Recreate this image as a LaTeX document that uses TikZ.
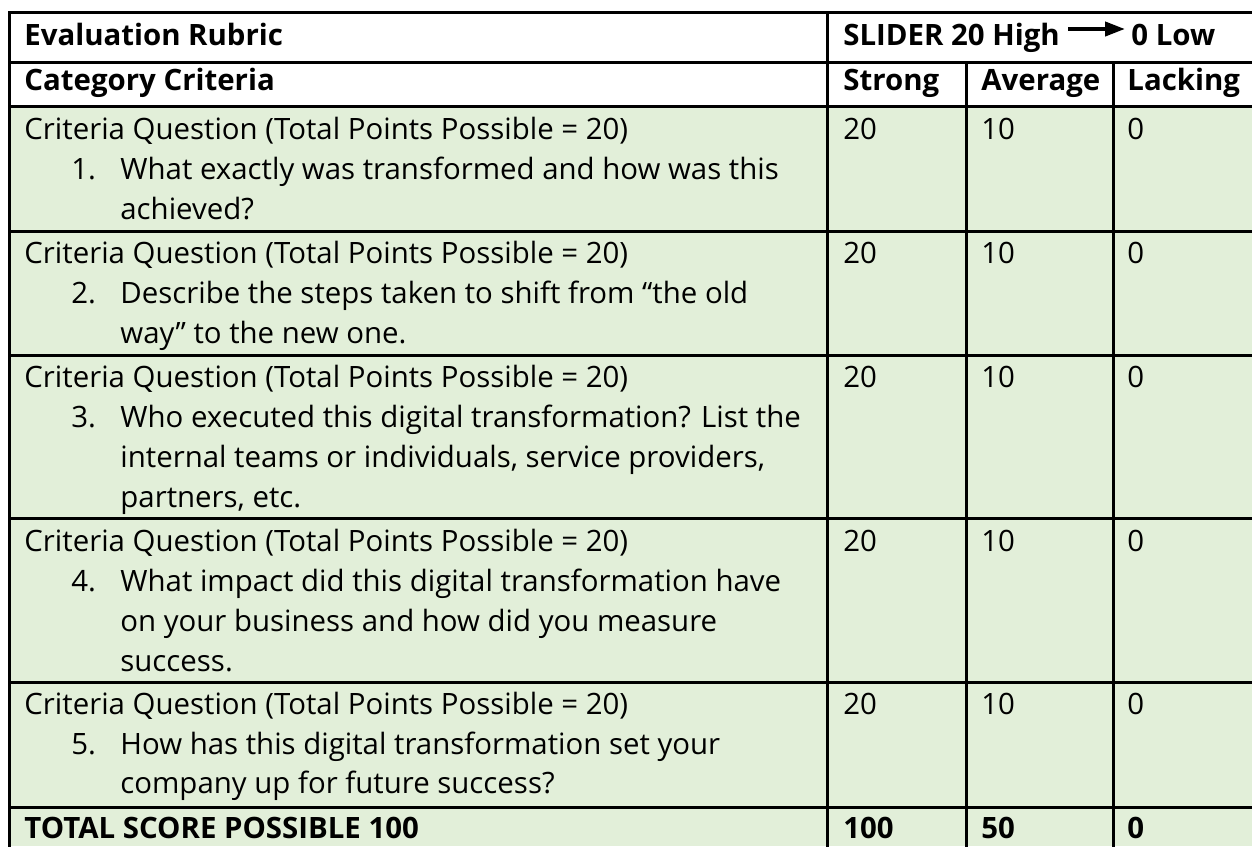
\documentclass[tikz,border=0pt]{standalone}
\usepackage{fontspec}
\setmainfont{Open Sans}
\usetikzlibrary{arrows.meta}
\definecolor{rowgreen}{HTML}{E2EFD9}
\newcommand{\hdr}[1]{{\bfseries #1}}

\begin{document}
\begin{tikzpicture}[
 x=0.5pt,
 y=-0.5pt,
 font=\fontsize{14.7}{20}\selectfont,
 txt/.style={
  anchor=base west,
  inner sep=0pt,
 },
 rule/.style={
  line width=1.5pt,
  line cap=rect,
 }
]

\useasboundingbox (0,0) rectangle (1252,846);
\fill[white] (0,0) rectangle (1252,846);
\fill[rowgreen] (9,106) rectangle (1252,846);

% grid
\draw[rule] (9,12) -- (1252,12);
\draw[rule] (9,62) -- (1252,62);
\draw[rule] (9,106) -- (1252,106);
\draw[rule] (9,231) -- (1252,231);
\draw[rule] (9,355) -- (1252,355);
\draw[rule] (9,518) -- (1252,518);
\draw[rule] (9,682) -- (1252,682);
\draw[rule] (9,807) -- (1252,807);
\draw[rule] (9,12) -- (9,846);
\draw[rule] (827,12) -- (827,846);
\draw[rule] (966,62) -- (966,846);
\draw[rule] (1113,62) -- (1113,846);

% header
\node at (24,45) [txt] (rubric) {\hdr{Evaluation Rubric}};
\node at (843,45) [txt] (high) {\hdr{SLIDER 20 High}};
\node at (1131,45) [txt] (low) {\hdr{0 Low}};
\draw[line width=2pt,-{Triangle[length=10pt,width=7pt]}] ([xshift=4pt,yshift=8pt]high.base east) -- ([xshift=-3pt,yshift=8pt]low.base west);

\node at (24,90) [txt] (category) {\hdr{Category Criteria}};
\node at (843,90) [txt] (strong) {\hdr{Strong}};
\node at (981,90) [txt] (average) {\hdr{Average}};
\node at (1127,90) [txt] (lacking) {\hdr{Lacking}};

% question 1
\node at (24,139) [txt] (q1) {Criteria Question (Total Points Possible = 20)};
\node at (71,179) [txt] (n1) {1.};
\node at (120,179) [txt] (q1a) {What exactly was transformed and how was this};
\node at (120,219) [txt] (q1b) {achieved?};
\node at (843,139) [txt] (s1) {20};
\node at (981,139) [txt] (a1) {10};
\node at (1127,139) [txt] (l1) {0};

% question 2
\node at (24,263) [txt] (q2) {Criteria Question (Total Points Possible = 20)};
\node at (71,303) [txt] (n2) {2.};
\node at (120,303) [txt] (q2a) {Describe the steps taken to shift from “the old};
\node at (120,343) [txt] (q2b) {way” to the new one.};
\node at (843,263) [txt] (s2) {20};
\node at (981,263) [txt] (a2) {10};
\node at (1127,263) [txt] (l2) {0};

% question 3
\node at (24,387) [txt] (q3) {Criteria Question (Total Points Possible = 20)};
\node at (71,427) [txt] (n3) {3.};
\node at (120,427) [txt] (q3a) {Who executed this digital transformation? List the};
\node at (120,467) [txt] (q3b) {internal teams or individuals, service providers,};
\node at (120,507) [txt] (q3c) {partners, etc.};
\node at (843,387) [txt] (s3) {20};
\node at (981,387) [txt] (a3) {10};
\node at (1127,387) [txt] (l3) {0};

% question 4
\node at (24,551) [txt] (q4) {Criteria Question (Total Points Possible = 20)};
\node at (71,591) [txt] (n4) {4.};
\node at (120,591) [txt] (q4a) {What impact did this digital transformation have};
\node at (120,631) [txt] (q4b) {on your business and how did you measure};
\node at (120,671) [txt] (q4c) {success.};
\node at (843,551) [txt] (s4) {20};
\node at (981,551) [txt] (a4) {10};
\node at (1127,551) [txt] (l4) {0};

% question 5
\node at (24,714) [txt] (q5) {Criteria Question (Total Points Possible = 20)};
\node at (71,754) [txt] (n5) {5.};
\node at (120,754) [txt] (q5a) {How has this digital transformation set your};
\node at (120,793) [txt] (q5b) {company up for future success?};
\node at (843,714) [txt] (s5) {20};
\node at (981,714) [txt] (a5) {10};
\node at (1127,714) [txt] (l5) {0};

% total
\node at (24,838) [txt] (total) {\hdr{TOTAL SCORE POSSIBLE 100}};
\node at (843,838) [txt] (stot) {\hdr{100}};
\node at (981,838) [txt] (atot) {\hdr{50}};
\node at (1127,838) [txt] (ltot) {\hdr{0}};

\end{tikzpicture}
\end{document}
